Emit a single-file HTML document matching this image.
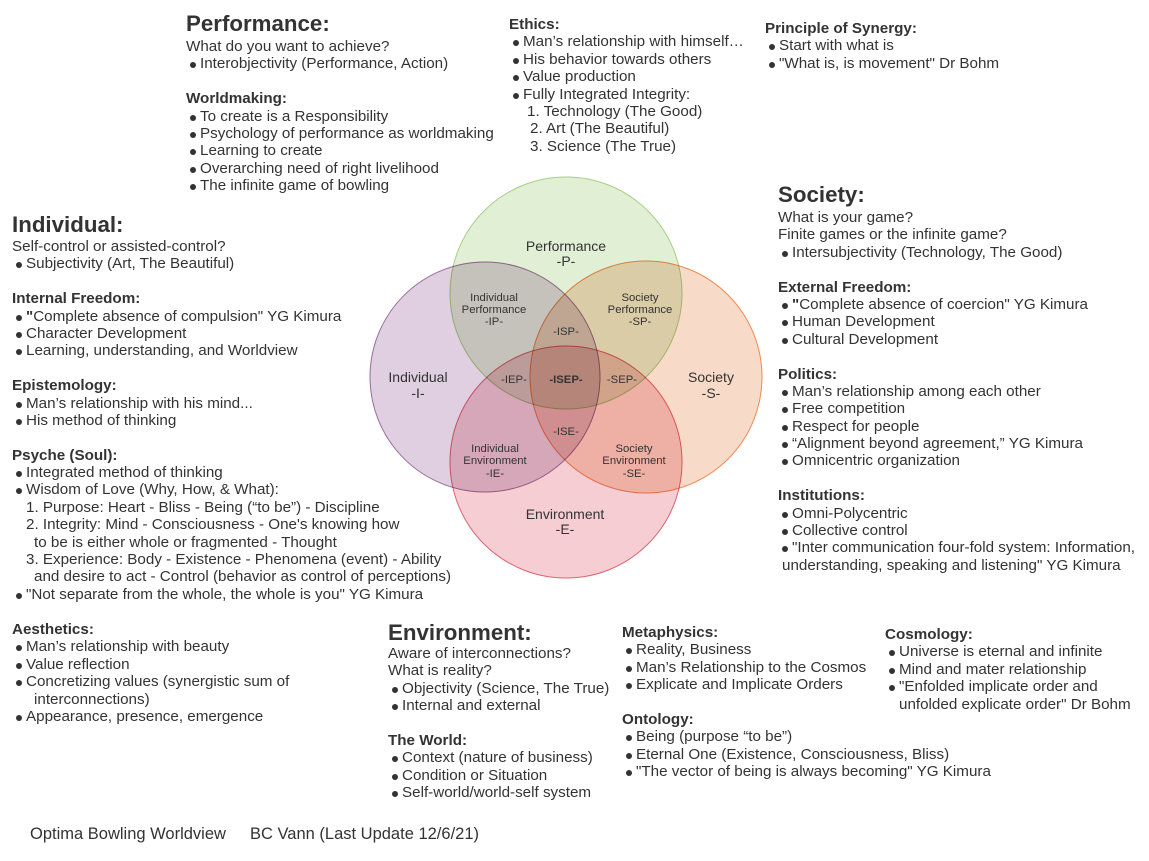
<!DOCTYPE html>
<html><head><meta charset="utf-8">
<style>
body{margin:0;width:1149px;height:861px;background:#fff;position:relative;overflow:hidden;font-family:"Liberation Sans",Arial,sans-serif;color:#333;}
.b{position:absolute;font-size:15.2px;line-height:17.4px;white-space:nowrap;}
.b div{height:17.4px;}
.h{font-weight:bold;}
.t{position:absolute;font-size:22.3px;font-weight:bold;white-space:nowrap;line-height:26px;}
.li{padding-left:14px;position:relative;}
.li:before{content:"";position:absolute;left:4px;top:7px;width:6px;height:6px;border-radius:50%;background:#333;}
.n{padding-left:14px;}
.c{padding-left:22px;}
svg text{font-family:"Liberation Sans",Arial,sans-serif;fill:#333;text-anchor:middle;}
</style></head><body>

<svg width="1149" height="861" style="position:absolute;left:0;top:0">
<g style="isolation:isolate">
<circle cx="566" cy="293" r="116" fill="#e1efd4" stroke="#a9cf84" stroke-width="1" style="mix-blend-mode:multiply"/>
<circle cx="485" cy="377" r="115" fill="#dfcfe0" stroke="#9a6c9e" stroke-width="1" style="mix-blend-mode:multiply"/>
<circle cx="646" cy="377" r="116" fill="#f8dac8" stroke="#ef8a52" stroke-width="1" style="mix-blend-mode:multiply"/>
<circle cx="566" cy="462" r="116" fill="#f5cdd3" stroke="#e2616f" stroke-width="1" style="mix-blend-mode:multiply"/>
</g>
<g font-size="14">
<text x="566" y="251">Performance</text><text x="566" y="266">-P-</text>
<text x="418" y="382">Individual</text><text x="418" y="398">-I-</text>
<text x="711" y="382">Society</text><text x="711" y="398">-S-</text>
<text x="565" y="519">Environment</text><text x="565" y="534">-E-</text>
</g>
<g font-size="11.3">
<text x="494" y="301">Individual</text><text x="494" y="313">Performance</text><text x="494" y="325">-IP-</text>
<text x="640" y="301">Society</text><text x="640" y="313">Performance</text><text x="640" y="325">-SP-</text>
<text x="566" y="335">-ISP-</text>
<text x="514" y="383">-IEP-</text>
<text x="566" y="383" font-weight="bold">-ISEP-</text>
<text x="622" y="383">-SEP-</text>
<text x="566" y="435">-ISE-</text>
<text x="495" y="452">Individual</text><text x="495" y="464">Environment</text><text x="495" y="477">-IE-</text>
<text x="634" y="452">Society</text><text x="634" y="464">Environment</text><text x="634" y="477">-SE-</text>
</g>
</svg>

<div class="t" style="left:186px;top:11px">Performance:</div>
<div class="b" style="left:186px;top:38px">
<div>What do you want to achieve?</div>
<div class="li">Interobjectivity (Performance, Action)</div>
<div></div>
<div class="h">Worldmaking:</div>
<div class="li">To create is a Responsibility</div>
<div class="li">Psychology of performance as worldmaking</div>
<div class="li">Learning to create</div>
<div class="li">Overarching need of right livelihood</div>
<div class="li">The infinite game of bowling</div>
</div>

<div class="b" style="left:509px;top:16px">
<div class="h">Ethics:</div>
<div class="li">Man’s relationship with himself…</div>
<div class="li">His behavior towards others</div>
<div class="li">Value production</div>
<div class="li">Fully Integrated Integrity:</div>
<div style="padding-left:18px">1. Technology (The Good)</div>
<div style="padding-left:21px">2. Art (The Beautiful)</div>
<div style="padding-left:21px">3. Science (The True)</div>
</div>

<div class="b" style="left:765px;top:20px">
<div class="h">Principle of Synergy:</div>
<div class="li">Start with what is</div>
<div class="li">"What is, is movement" Dr Bohm</div>
</div>

<div class="t" style="left:778px;top:182px">Society:</div>
<div class="b" style="left:778px;top:209px">
<div>What is your game?</div>
<div>Finite games or the infinite game?</div>
<div class="li">Intersubjectivity (Technology, The Good)</div>
<div></div>
<div class="h">External Freedom:</div>
<div class="li"><b>"</b>Complete absence of coercion" YG Kimura</div>
<div class="li">Human Development</div>
<div class="li">Cultural Development</div>
<div></div>
<div class="h">Politics:</div>
<div class="li">Man’s relationship among each other</div>
<div class="li">Free competition</div>
<div class="li">Respect for people</div>
<div class="li">“Alignment beyond agreement,” YG Kimura</div>
<div class="li">Omnicentric organization</div>
<div></div>
<div class="h">Institutions:</div>
<div class="li">Omni-Polycentric</div>
<div class="li">Collective control</div>
<div class="li">"Inter communication four-fold system: Information,</div>
<div style="padding-left:4px">understanding, speaking and listening" YG Kimura</div>
</div>

<div class="t" style="left:12px;top:212px">Individual:</div>
<div class="b" style="left:12px;top:238px">
<div>Self-control or assisted-control?</div>
<div class="li">Subjectivity (Art, The Beautiful)</div>
<div></div>
<div class="h">Internal Freedom:</div>
<div class="li"><b>"</b>Complete absence of compulsion" YG Kimura</div>
<div class="li">Character Development</div>
<div class="li">Learning, understanding, and Worldview</div>
<div></div>
<div class="h">Epistemology:</div>
<div class="li">Man’s relationship with his mind...</div>
<div class="li">His method of thinking</div>
<div></div>
<div class="h">Psyche (Soul):</div>
<div class="li">Integrated method of thinking</div>
<div class="li">Wisdom of Love (Why, How, &amp; What):</div>
<div class="n">1. Purpose: Heart - Bliss - Being (“to be”) - Discipline</div>
<div class="n">2. Integrity: Mind - Consciousness - One's knowing how</div>
<div class="c">to be is either whole or fragmented - Thought</div>
<div class="n">3. Experience: Body - Existence - Phenomena (event) - Ability</div>
<div class="c">and desire to act - Control (behavior as control of perceptions)</div>
<div class="li">"Not separate from the whole, the whole is you" YG Kimura</div>
</div>

<div class="b" style="left:12px;top:621px">
<div class="h">Aesthetics:</div>
<div class="li">Man’s relationship with beauty</div>
<div class="li">Value reflection</div>
<div class="li">Concretizing values (synergistic sum of</div>
<div class="c">interconnections)</div>
<div class="li">Appearance, presence, emergence</div>
</div>

<div class="t" style="left:388px;top:620px">Environment:</div>
<div class="b" style="left:388px;top:645px">
<div>Aware of interconnections?</div>
<div>What is reality?</div>
<div class="li">Objectivity (Science, The True)</div>
<div class="li">Internal and external</div>
<div></div>
<div class="h">The World:</div>
<div class="li">Context (nature of business)</div>
<div class="li">Condition or Situation</div>
<div class="li">Self-world/world-self system</div>
</div>

<div class="b" style="left:622px;top:624px">
<div class="h">Metaphysics:</div>
<div class="li">Reality, Business</div>
<div class="li">Man’s Relationship to the Cosmos</div>
<div class="li">Explicate and Implicate Orders</div>
<div></div>
<div class="h">Ontology:</div>
<div class="li">Being (purpose “to be”)</div>
<div class="li">Eternal One (Existence, Consciousness, Bliss)</div>
<div class="li">"The vector of being is always becoming" YG Kimura</div>
</div>

<div class="b" style="left:885px;top:626px">
<div class="h">Cosmology:</div>
<div class="li">Universe is eternal and infinite</div>
<div class="li">Mind and mater relationship</div>
<div class="li">"Enfolded implicate order and</div>
<div class="n">unfolded explicate order" Dr Bohm</div>
</div>

<div class="b" style="left:30px;top:826px;font-size:16.5px">Optima Bowling Worldview</div>
<div class="b" style="left:250px;top:826px;font-size:16.5px">BC Vann (Last Update 12/6/21)</div>
</body></html>
